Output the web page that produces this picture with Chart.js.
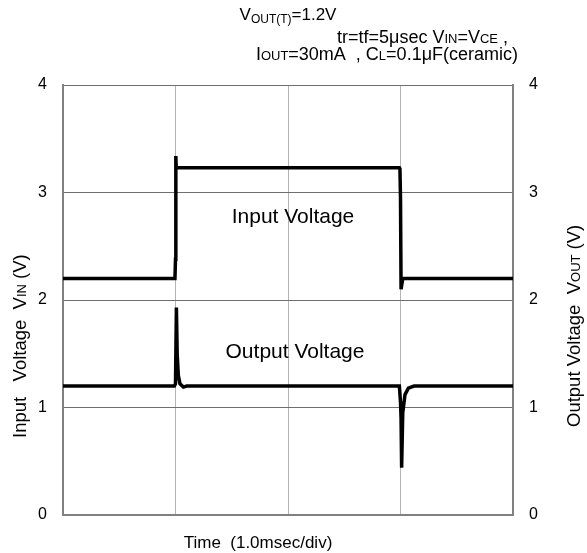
<!DOCTYPE html>
<html>
<head>
<meta charset="utf-8">
<script src="https://cdn.jsdelivr.net/npm/chart.js@4/dist/chart.umd.min.js"></script>
<style>
  html, body { margin: 0; padding: 0; background: #fff; }
  #wrap { width: 587px; height: 553px; }
</style>
</head>
<body>
<div id="wrap"><canvas id="pulseChart" width="587" height="553"></canvas></div>
<script>
// time in divisions (1 div = 1.0 msec), voltages in V
const timeIn = [0, 0.995, 1.0, 1.003, 1.006, 1.02, 1.1, 1.5, 2.0, 2.5, 2.99, 2.995, 3.0, 3.005, 3.02, 3.05, 3.5, 4.0];
const vIn    = [2.2, 2.2, 2.38, 3.34, 3.24, 3.23, 3.23, 3.23, 3.23, 3.23, 3.23, 3.22, 2.95, 2.1, 2.2, 2.2, 2.2, 2.2];

const timeOut = [0, 0.99, 1.0, 1.008, 1.015, 1.025, 1.04, 1.07, 1.1, 2.0, 2.99, 3.0, 3.005, 3.01, 3.02, 3.04, 3.07, 3.12, 4.0];
const vOut    = [1.2, 1.2, 1.22, 1.93, 1.5, 1.3, 1.22, 1.19, 1.2, 1.2, 1.2, 1.05, 0.9, 0.44, 0.95, 1.12, 1.18, 1.2, 1.2];

const yTicks = [0, 1, 2, 3, 4];

const FONT = '"Liberation Sans", Arial, sans-serif';

// draws text made of [text, isSub] parts; size = main font px, sub = subscript px
function richText(ctx, parts, x, y, align, size, sub, drop) {
  const f = p => (p[1] ? sub : size) + 'px ' + FONT;
  let w = 0;
  parts.forEach(p => { ctx.font = f(p); w += ctx.measureText(p[0]).width; });
  let cx = align === 'right' ? x - w : align === 'center' ? x - w / 2 : x;
  parts.forEach(p => {
    ctx.font = f(p);
    ctx.fillText(p[0], cx, p[1] ? y + drop : y);
    cx += ctx.measureText(p[0]).width;
  });
}

const labelsPlugin = {
  id: 'labels',
  afterDraw(chart) {
    const ctx = chart.ctx;
    ctx.save();
    ctx.fillStyle = '#000';
    ctx.textBaseline = 'alphabetic';
    richText(ctx, [['V', 0], ['OUT(T)', 1], ['=1.2V', 0]], 288, 20, 'center', 17, 12, 3);
    richText(ctx, [['tr=tf=5μsec V', 0], ['IN', 1], ['=V', 0], ['CE', 1], [' ,', 0]], 508, 43, 'right', 18, 13, 0);
    richText(ctx, [['I', 0], ['OUT', 1], ['=30mA  , C', 0], ['L', 1], ['=0.1μF(ceramic)', 0]], 518, 60, 'right', 18, 13, 0);
    richText(ctx, [['Time  (1.0msec/div)', 0]], 258, 548, 'center', 17, 12, 0);

    ctx.save();
    ctx.translate(26, 438);
    ctx.rotate(-Math.PI / 2);
    richText(ctx, [['Input   Voltage  V', 0], ['IN', 1], [' (V)', 0]], 0, 0, 'left', 18.5, 13, 0);
    ctx.restore();

    ctx.save();
    ctx.translate(580, 427);
    ctx.rotate(-Math.PI / 2);
    richText(ctx, [['Output Voltage  V', 0], ['OUT', 1], [' (V)', 0]], 0, 0, 'left', 18.5, 13, 0);
    ctx.restore();

    ctx.textAlign = 'center';
    ctx.font = '21px ' + FONT;
    ctx.fillText('Input Voltage', 293, 223);
    ctx.fillText('Output Voltage', 295, 358);
    ctx.restore();
  }
};

new Chart(document.getElementById('pulseChart'), {
  type: 'line',
  data: {
    datasets: [
      {
        label: 'Input Voltage',
        data: timeIn.map((t, i) => ({ x: t, y: vIn[i] })),
        borderColor: '#000', borderWidth: 3.5, pointRadius: 0, tension: 0, yAxisID: 'y'
      },
      {
        label: 'Output Voltage',
        data: timeOut.map((t, i) => ({ x: t, y: vOut[i] })),
        borderColor: '#000', borderWidth: 3.5, pointRadius: 0, tension: 0, yAxisID: 'y2'
      }
    ]
  },
  options: {
    responsive: false,
    animation: false,
    layout: { padding: { top: 85, left: 0, right: 0, bottom: 0 } },
    plugins: { legend: { display: false }, tooltip: { enabled: false } },
    scales: {
      x: {
        type: 'linear', min: 0, max: 4,
        ticks: { display: false, stepSize: 1 },
        grid: { color: '#b4b4b4', lineWidth: 1, drawTicks: false },
        border: { color: '#808080', width: 2 },
        afterFit(s) { s.height = 38; }
      },
      y: {
        min: 0, max: 4,
        afterBuildTicks(s) { s.ticks = yTicks.map(v => ({ value: v })); },
        ticks: { color: '#000', font: { size: 16, family: FONT }, padding: 16 },
        grid: { color: '#6e6e6e', lineWidth: 1, drawTicks: false },
        border: { color: '#808080', width: 2 },
        afterFit(s) { s.width = 63; }
      },
      y2: {
        position: 'right', min: 0, max: 4,
        afterBuildTicks(s) { s.ticks = yTicks.map(v => ({ value: v })); },
        ticks: { color: '#000', font: { size: 16, family: FONT }, padding: 16 },
        grid: { display: false, drawTicks: false },
        border: { color: '#808080', width: 2 },
        afterFit(s) { s.width = 74; }
      }
    }
  },
  plugins: [labelsPlugin]
});
</script>
</body>
</html>
